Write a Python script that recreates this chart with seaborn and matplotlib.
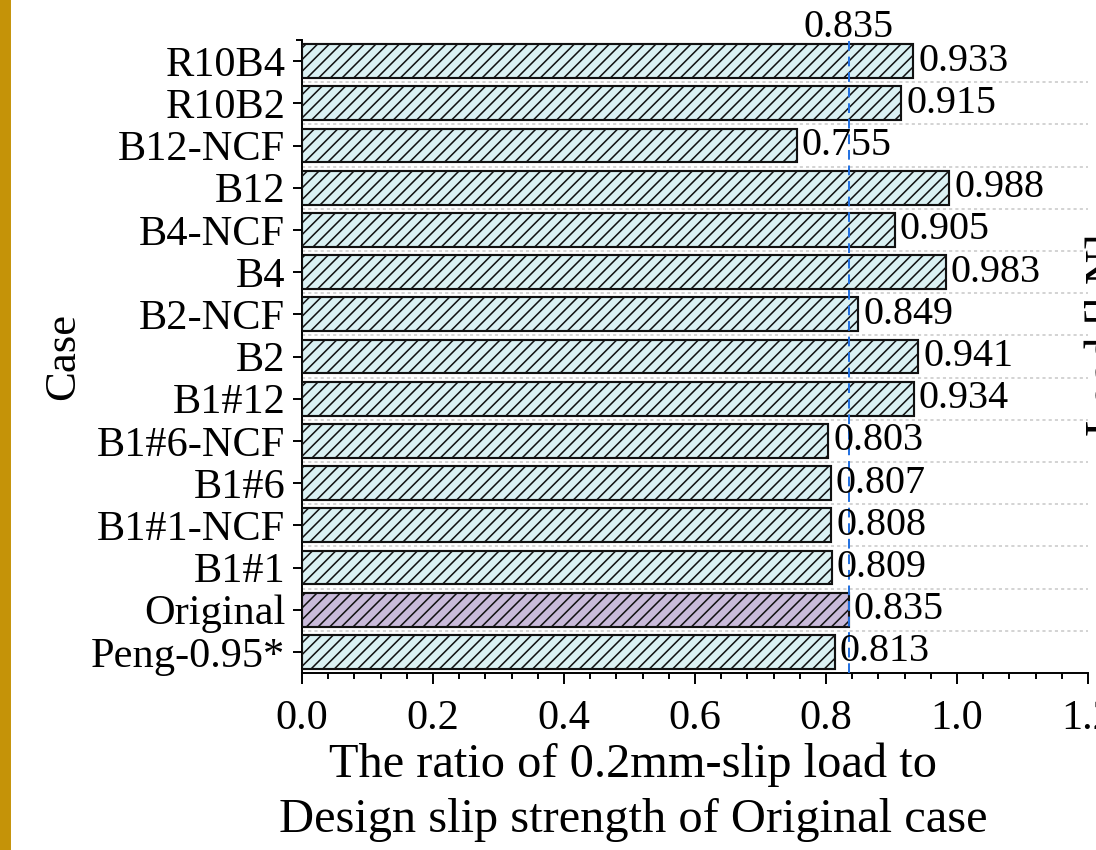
import numpy as np
import pandas as pd
import seaborn as sns
import matplotlib.pyplot as plt
from matplotlib.patches import Rectangle
from matplotlib.ticker import MultipleLocator

cases = ['R10B4', 'R10B2', 'B12-NCF', 'B12', 'B4-NCF', 'B4', 'B2-NCF', 'B2',
         'B1#12', 'B1#6-NCF', 'B1#6', 'B1#1-NCF', 'B1#1', 'Original', 'Peng-0.95*']
ratios = [0.933, 0.915, 0.755, 0.988, 0.905, 0.983, 0.849, 0.941,
          0.934, 0.803, 0.807, 0.808, 0.809, 0.835, 0.813]
ref_ratio = 0.835
x_ticks = [0.0, 0.2, 0.4, 0.6, 0.8, 1.0, 1.2]

df = pd.DataFrame({'case': cases, 'ratio': ratios})

sns.set_theme(style='ticks')
plt.rcParams['font.family'] = ['Liberation Serif', 'DejaVu Serif']
plt.rcParams['hatch.linewidth'] = 0.8
plt.rcParams['text.color'] = 'black'
plt.rcParams['axes.labelcolor'] = 'black'
plt.rcParams['xtick.color'] = 'black'
plt.rcParams['ytick.color'] = 'black'
plt.rcParams['xtick.labelcolor'] = 'black'
plt.rcParams['ytick.labelcolor'] = 'black'

DPI = 140
fig = plt.figure(figsize=(1096 / DPI, 850 / DPI), dpi=DPI)
ax = fig.add_axes([302 / 1096, 1 - 673 / 850, (1088 - 302) / 1096, (673 - 40) / 850])

# gold strip at the left edge
fig.patches.append(Rectangle((0, 0), 10 / 1096, 1, transform=fig.transFigure,
                             color='#C59308', zorder=0))

palette = {c: ('#C9BADA' if c == 'Original' else '#DAF1F3') for c in cases}
sns.barplot(data=df, y='case', x='ratio', hue='case', palette=palette, legend=False,
            width=0.8, edgecolor='#111111', linewidth=1.1, saturation=1, ax=ax, zorder=3)
for p in ax.patches:
    p.set_hatch('////')

# dotted separators between bars
for k in range(len(cases) - 1):
    ax.axhline(k + 0.5, color='#c8c8c8', ls=(0, (2, 2)), lw=0.8, zorder=1)

ax.axvline(ref_ratio, color='#1f6fe0', ls=(0, (5, 3)), lw=1.0, zorder=4)
ax.annotate(f'{ref_ratio:.3f}', xy=(ref_ratio, 1), xycoords=('data', 'axes fraction'),
            xytext=(0, -3), textcoords='offset points', ha='center', va='bottom',
            fontsize=20.6)

for i, v in enumerate(ratios):
    ax.annotate(f'{v:.3f}', xy=(v, i), xytext=(2.6, 0), textcoords='offset points',
                ha='left', va='center', fontsize=20.6, zorder=5)

ax.set_xlim(0, 1.2)
ax.set_ylim(len(cases) - 0.5, -0.5)
ax.set_xticks(x_ticks)
ax.set_xticklabels([f'{t:.1f}' for t in x_ticks])
ax.xaxis.set_minor_locator(MultipleLocator(0.04))
ax.tick_params(axis='x', which='major', direction='out', length=5.7, width=1.0,
               labelsize=21.8, pad=8)
ax.tick_params(axis='x', which='minor', direction='out', length=3.0, width=1.0)
ax.tick_params(axis='y', which='major', direction='out', length=4.6, width=1.0,
               labelsize=21.8, pad=4)
ax.set_yticks([-0.5], minor=True)
ax.tick_params(axis='y', which='minor', direction='out', length=3.0, width=1.0)

for s in ['left', 'bottom']:
    ax.spines[s].set_linewidth(1.0)
    ax.spines[s].set_color('black')
sns.despine(ax=ax)

ax.set_ylabel('Case', fontsize=23, labelpad=4)
ax.set_xlabel('The ratio of 0.2mm-slip load to\nDesign slip strength of Original case',
              fontsize=24.9, linespacing=1.32)
ax.xaxis.set_label_coords(0.421, -0.11)
ax.xaxis.label.set_va('top')

# clipped label from the neighbouring panel
fig.text(1085 / 1096, 1 - 335 / 850, 'Load [kN]', rotation=90, ha='left', va='center',
         fontsize=24.9)

fig.savefig('out.png', dpi=DPI)
